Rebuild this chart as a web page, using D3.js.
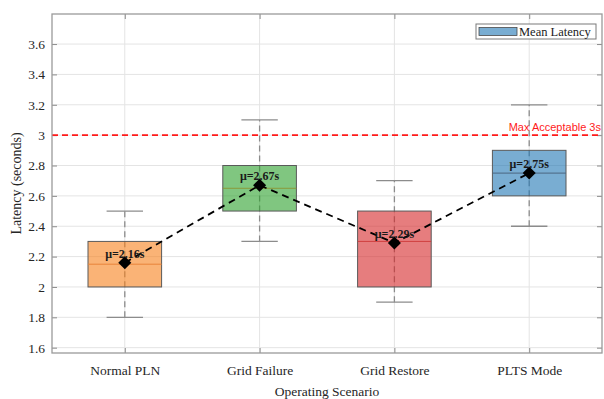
<!DOCTYPE html>
<html>
<head>
<meta charset="utf-8">
<script src="https://cdn.jsdelivr.net/npm/d3@7"></script>
<style>
  html, body { margin: 0; padding: 0; background: #fff; }
  svg { display: block; }
</style>
</head>
<body>
<svg id="chart" width="604" height="399"></svg>
<script>
// Scenario labels and their box-plot statistics (seconds)
const scenarios = ["Normal PLN", "Grid Failure", "Grid Restore", "PLTS Mode"];
const whiskerLow = [1.8, 2.3, 1.9, 2.4];
const q1 = [2.0, 2.5, 2.0, 2.6];
const medians = [2.15, 2.65, 2.3, 2.75];
const q3 = [2.3, 2.8, 2.5, 2.9];
const whiskerHigh = [2.5, 3.1, 2.7, 3.2];
const means = [2.16, 2.67, 2.29, 2.75];
const boxColors = ["#f7801a", "#2ca02c", "#d62728", "#1f77b4"];
const medianColors = ["#e8843a", "#8a9a3a", "#d04040", "#4a6680"];
const yTicks = [1.6, 1.8, 2.0, 2.2, 2.4, 2.6, 2.8, 3.0, 3.2, 3.4, 3.6];
const threshold = 3.0;
const thresholdLabel = "Max Acceptable 3s";
const legendLabel = "Mean Latency";

const svg = d3.select("#chart");
const plotLeft = 52, plotRight = 602, plotTop = 14, plotBottom = 353;

const x = d3.scaleLinear().domain([0.46, 4.54]).range([plotLeft, plotRight]);
const y = d3.scaleLinear().domain([1.565, 3.798]).range([plotBottom, plotTop]);
const positions = scenarios.map((d, i) => i + 1);

const serif = "'Liberation Serif', 'Times New Roman', serif";
const sans = "'Liberation Sans', Arial, sans-serif";

// Grid
const grid = svg.append("g");
grid.selectAll("line.h").data(yTicks).join("line").attr("class", "h")
  .attr("x1", plotLeft).attr("x2", plotRight)
  .attr("y1", d => y(d)).attr("y2", d => y(d))
  .attr("stroke", "#e4e4e4").attr("stroke-width", 1);
grid.selectAll("line.v").data(positions).join("line").attr("class", "v")
  .attr("y1", plotTop).attr("y2", plotBottom)
  .attr("x1", d => x(d)).attr("x2", d => x(d))
  .attr("stroke", "#e4e4e4").attr("stroke-width", 1);

// Axes with inward ticks on all four sides
const axisStyle = g => {
  g.select(".domain").remove();
  g.selectAll(".tick line").attr("stroke", "#8c8c8c");
  g.selectAll(".tick text").attr("fill", "#262626")
    .style("font-family", serif).style("font-size", "13.5px");
};
svg.append("g").attr("transform", `translate(${plotLeft},0)`)
  .call(d3.axisLeft(y).tickValues(yTicks).tickFormat(d3.format("~g"))
    .tickSizeInner(-5).tickSizeOuter(0).tickPadding(7))
  .call(axisStyle);
svg.append("g").attr("transform", `translate(${plotRight},0)`)
  .call(d3.axisRight(y).tickValues(yTicks).tickFormat("")
    .tickSizeInner(-5).tickSizeOuter(0))
  .call(axisStyle);
svg.append("g").attr("transform", `translate(0,${plotBottom})`)
  .call(d3.axisBottom(x).tickValues(positions).tickFormat((d, i) => scenarios[i])
    .tickSizeInner(-5).tickSizeOuter(0).tickPadding(12))
  .call(axisStyle);
svg.append("g").attr("transform", `translate(0,${plotTop})`)
  .call(d3.axisTop(x).tickValues(positions).tickFormat("")
    .tickSizeInner(-5).tickSizeOuter(0))
  .call(axisStyle);

// Threshold line
svg.append("line")
  .attr("x1", plotLeft).attr("x2", plotRight)
  .attr("y1", y(threshold)).attr("y2", y(threshold))
  .attr("stroke", "#ff1a1a").attr("stroke-width", 1.6)
  .attr("stroke-dasharray", "6,4");
svg.append("text")
  .attr("x", plotRight - 1).attr("y", y(threshold) - 4)
  .attr("text-anchor", "end")
  .attr("fill", "#ff1a1a")
  .style("font-family", sans).style("font-size", "11px")
  .text(thresholdLabel);

// Box plots
const boxHalf = 0.273, capHalf = 0.135;
const boxes = svg.append("g").selectAll("g").data(positions).join("g");
boxes.append("line")
  .attr("x1", d => x(d)).attr("x2", d => x(d))
  .attr("y1", (d, i) => y(whiskerLow[i])).attr("y2", (d, i) => y(whiskerHigh[i]))
  .attr("stroke", "#8c8c8c").attr("stroke-width", 1.3)
  .attr("stroke-dasharray", "6,4");
["low", "high"].forEach(k => {
  boxes.append("line")
    .attr("x1", d => x(d - capHalf)).attr("x2", d => x(d + capHalf))
    .attr("y1", (d, i) => y(k === "low" ? whiskerLow[i] : whiskerHigh[i]))
    .attr("y2", (d, i) => y(k === "low" ? whiskerLow[i] : whiskerHigh[i]))
    .attr("stroke", "#8c8c8c").attr("stroke-width", 1.3);
});
boxes.append("rect")
  .attr("x", d => x(d - boxHalf))
  .attr("width", d => x(d + boxHalf) - x(d - boxHalf))
  .attr("y", (d, i) => y(q3[i]))
  .attr("height", (d, i) => y(q1[i]) - y(q3[i]))
  .attr("fill", (d, i) => boxColors[i]).attr("fill-opacity", 0.6)
  .attr("stroke", "#5a5a5a").attr("stroke-width", 1);
boxes.append("line")
  .attr("x1", d => x(d - boxHalf)).attr("x2", d => x(d + boxHalf))
  .attr("y1", (d, i) => y(medians[i])).attr("y2", (d, i) => y(medians[i]))
  .attr("stroke", (d, i) => medianColors[i]).attr("stroke-width", 1);

// Mean trend line and markers
const meanLine = d3.line().x((d, i) => x(positions[i])).y(d => y(d));
svg.append("path").datum(means)
  .attr("d", meanLine)
  .attr("fill", "none").attr("stroke", "#000").attr("stroke-width", 1.8)
  .attr("stroke-dasharray", "7,5");
svg.append("g").selectAll("path").data(means).join("path")
  .attr("d", d3.symbol(d3.symbolSquare, 85))
  .attr("transform", (d, i) => `translate(${x(positions[i])},${y(d)}) rotate(45)`)
  .attr("fill", "#000");
svg.append("g").selectAll("text").data(means).join("text")
  .attr("x", (d, i) => x(positions[i]))
  .attr("y", d => y(d) - 5)
  .attr("text-anchor", "middle")
  .attr("fill", "#1a1a1a")
  .style("font-family", serif).style("font-size", "12px").style("font-weight", "bold")
  .text(d => `μ=${d.toFixed(2)}s`);

// Frame
svg.append("rect")
  .attr("x", plotLeft).attr("y", plotTop)
  .attr("width", plotRight - plotLeft).attr("height", plotBottom - plotTop)
  .attr("fill", "none").attr("stroke", "#9a9a9a").attr("stroke-width", 1.3);

// Legend
const lg = svg.append("g").attr("transform", "translate(476,24)");
lg.append("rect").attr("width", 120).attr("height", 15)
  .attr("fill", "#fff").attr("stroke", "#7a7a7a").attr("stroke-width", 1);
lg.append("rect").attr("x", 3).attr("y", 3.5).attr("width", 38).attr("height", 8)
  .attr("fill", boxColors[3]).attr("fill-opacity", 0.6)
  .attr("stroke", "#4a4a4a").attr("stroke-width", 0.8);
lg.append("text").attr("x", 43).attr("y", 11.5)
  .attr("fill", "#1a1a1a")
  .style("font-family", serif).style("font-size", "12.5px")
  .text(legendLabel);

// Axis titles
svg.append("text")
  .attr("x", (plotLeft + plotRight) / 2).attr("y", 396)
  .attr("text-anchor", "middle").attr("fill", "#262626")
  .style("font-family", serif).style("font-size", "13.5px")
  .text("Operating Scenario");
svg.append("text")
  .attr("transform", `translate(21,${(plotTop + plotBottom) / 2}) rotate(-90)`)
  .attr("text-anchor", "middle").attr("fill", "#262626")
  .style("font-family", serif).style("font-size", "14px")
  .text("Latency (seconds)");
</script>
</body>
</html>
